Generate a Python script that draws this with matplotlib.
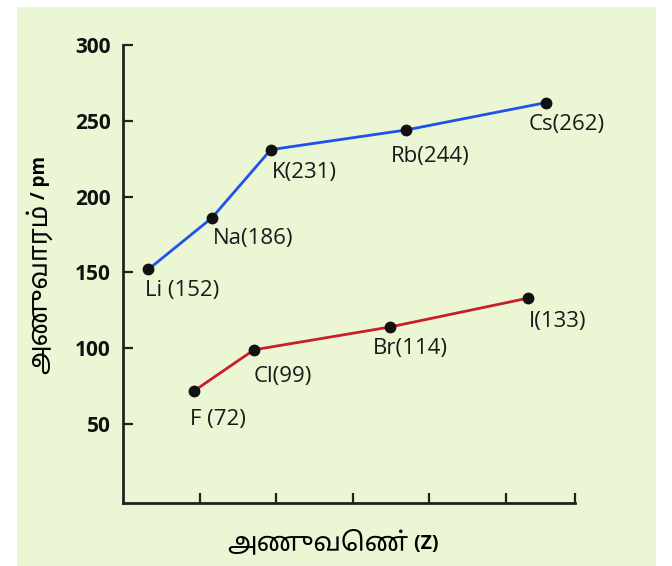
import matplotlib
matplotlib.use("Agg")
import matplotlib.pyplot as plt
from matplotlib.patches import Rectangle

# கார உலோகங்கள் (alkali metals)
alkali = ["Li", "Na", "K", "Rb", "Cs"]
alkali_x = [0.33, 1.16, 1.93, 3.70, 5.52]
alkali_r = [152, 186, 231, 244, 262]
alkali_lbl = ["Li (152)", "Na(186)", "K(231)", "Rb(244)", "Cs(262)"]
alkali_off = [(-3, -11), (1, -10), (1, -12), (-16, -16), (-17, -11)]

# ஹேலஜன்கள் (halogens)
halogen = ["F", "Cl", "Br", "I"]
halogen_x = [0.93, 1.71, 3.48, 5.28]
halogen_r = [72, 99, 114, 133]
halogen_lbl = ["F (72)", "Cl(99)", "Br(114)", "I(133)"]
halogen_off = [(-4, -18), (0, -16), (-17, -11), (1, -13)]

y_ticks = [50, 100, 150, 200, 250, 300]
x_ticks = [1, 2, 3, 4, 5, 5.9]

bg = "#ebf6d4"
fig = plt.figure(figsize=(6.72, 5.66), dpi=100)
fig.patch.set_facecolor("white")
fig.patches.append(Rectangle((17 / 672, 0), (656 - 17) / 672, 1 - 7 / 566,
                             transform=fig.transFigure, facecolor=bg,
                             edgecolor="none", zorder=-10))

ax = fig.add_axes([123 / 672, 63 / 566, (575 - 123) / 672, (503 - 45) / 566])
ax.set_facecolor("none")

ax.plot(alkali_x, alkali_r, color="#1f52e8", lw=2.0, zorder=2)
ax.plot(halogen_x, halogen_r, color="#c81e2a", lw=2.0, zorder=2)
ax.plot(alkali_x, alkali_r, "o", color="#111111", ms=7.5, zorder=3)
ax.plot(halogen_x, halogen_r, "o", color="#111111", ms=7.5, zorder=3)

for x, y, s, o in zip(alkali_x, alkali_r, alkali_lbl, alkali_off):
    ax.annotate(s, (x, y), xytext=o, textcoords="offset pixels",
                ha="left", va="top", fontsize=16, family="Open Sans",
                color="#1a1a1a")
for x, y, s, o in zip(halogen_x, halogen_r, halogen_lbl, halogen_off):
    ax.annotate(s, (x, y), xytext=o, textcoords="offset pixels",
                ha="left", va="top", fontsize=16, family="Open Sans",
                color="#1a1a1a")

ax.set_xlim(0, 5.9)
ax.set_ylim(-2, 300)
ax.set_yticks(y_ticks)
ax.set_xticks(x_ticks)
ax.set_xticklabels([])
ax.set_yticklabels([str(v) for v in y_ticks], fontsize=15, fontweight="bold",
                   family="Open Sans")
for s in ["top", "right"]:
    ax.spines[s].set_visible(False)
for s in ["left", "bottom"]:
    ax.spines[s].set_linewidth(2.0)
    ax.spines[s].set_color("#222222")
ax.tick_params(direction="in", length=7.5, width=1.6, color="#222222", pad=9)
ax.tick_params(axis="y", colors="#222222", labelcolor="#111111")

# y அச்சு தலைப்பு
yl = fig.text(40 / 672, 1 - 374 / 566, "அணுவாரம்", rotation=90,
              ha="center", va="bottom", fontsize=19, family="Noto Sans Tamil")
ax.annotate(" / pm", xy=(0.5, 1), xycoords=yl, rotation=90, ha="center",
            va="bottom", fontsize=13.5, fontweight="bold", family="Open Sans")

# x அச்சு தலைப்பு
xl = fig.text(318 / 672, 1 - 543 / 566, "அணுவெண்", ha="center", va="center",
              fontsize=19, family="Noto Sans Tamil")
ax.annotate(" (Z)", xy=(1, 0.45), xycoords=xl, ha="left", va="center",
            fontsize=14, fontweight="bold", family="Open Sans")

fig.savefig("out.png", dpi=100, facecolor=fig.get_facecolor())
